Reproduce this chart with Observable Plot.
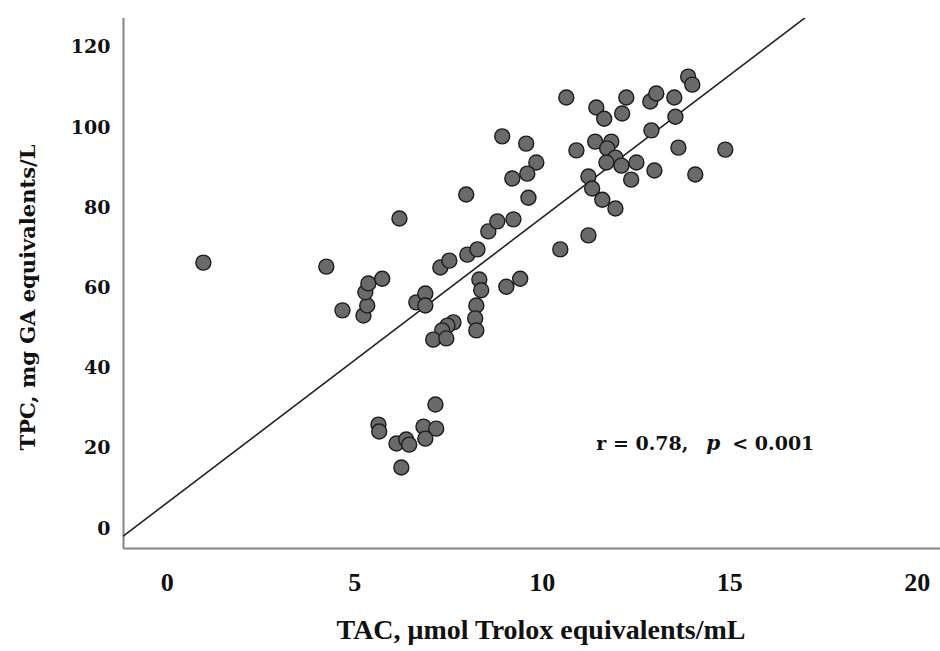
<!DOCTYPE html>
<html>
<head>
<meta charset="utf-8">
<script src="https://cdn.jsdelivr.net/npm/d3@7"></script>
<script src="https://cdn.jsdelivr.net/npm/@observablehq/plot@0.6"></script>
<style>
  html, body { margin: 0; padding: 0; background: #fff; }
  #chart svg { display: block; }
</style>
</head>
<body>
<div id="chart"></div>
<script>
// TAC (µmol Trolox equivalents/mL) values
const tac = [
  0.96, 4.24, 4.67, 5.23, 5.33, 5.28, 5.36, 5.73, 6.19, 6.64,
  6.88, 6.88, 7.28, 7.52, 8.00, 8.27, 8.56, 8.80, 9.23, 7.97,
  8.32, 8.37, 8.24, 8.21, 8.24, 9.04, 9.41, 7.63, 7.47, 7.33,
  7.09, 7.44, 7.15, 5.63, 5.65, 6.11, 6.37, 6.45, 6.83, 7.17,
  6.88, 6.24, 8.93, 9.57, 9.84, 9.60, 9.20, 9.63, 10.64, 11.44,
  11.65, 12.24, 12.13, 12.88, 13.04, 13.52, 13.89, 14.00, 13.55, 12.91,
  10.91, 11.41, 11.84, 11.73, 11.95, 11.71, 12.11, 12.51, 13.63, 14.88,
  12.99, 12.37, 14.08, 11.23, 11.33, 11.60, 11.95, 11.23, 10.48
];
// TPC (mg GA equivalents/L) values
const tpc = [
  66.3, 65.3, 54.4, 53.1, 55.6, 58.9, 61.1, 62.3, 77.3, 56.4,
  58.6, 55.6, 65.1, 66.8, 68.3, 69.6, 74.1, 76.6, 77.1, 83.3,
  62.1, 59.4, 55.6, 52.4, 49.4, 60.3, 62.3, 51.4, 50.6, 49.4,
  47.1, 47.4, 30.9, 25.9, 24.2, 21.2, 22.2, 20.9, 25.4, 24.9,
  22.4, 15.2, 97.8, 96.0, 91.3, 88.5, 87.3, 82.5, 107.5, 105.0,
  102.2, 107.5, 103.5, 106.5, 108.5, 107.5, 112.7, 110.7, 102.7, 99.3,
  94.3, 96.5, 96.5, 94.8, 92.5, 91.3, 90.5, 91.3, 95.0, 94.5,
  89.3, 87.0, 88.3, 87.8, 84.8, 82.0, 79.8, 73.1, 69.6
];
// fit line coefficients (intercept, slope)
const fitIntercept = 6.46;
const fitSlope = 7.11;
// tick labels
const xTicks = [0, 5, 10, 15, 20];
const yTicks = [0, 20, 40, 60, 80, 100, 120];
const xDomain = [-1.17, 20.62];
const yDomain = [-5, 127.2];
const xTitle = "TAC, \u03bcmol Trolox equivalents/mL";
const yTitle = "TPC, mg GA equivalents/L";
const annR = "r = 0.78,";
const annP = "p";
const annLt = "< 0.001";
const annPos = {x: 11.44, y: 21.2};

const points = tac.map((x, i) => ({x, y: tpc[i]}));
const fitLine = xDomain.map(x => ({x, y: fitIntercept + fitSlope * x}));

const serif = "'DejaVu Serif', serif";
const lib = "'Liberation Serif', serif";

const chart = Plot.plot({
  width: 940,
  height: 651,
  marginLeft: 123,
  marginRight: 0,
  marginTop: 18,
  marginBottom: 103,
  style: {background: "#fff"},
  x: {domain: xDomain},
  y: {domain: yDomain},
  marks: [
    Plot.axisX({ticks: xTicks, tickSize: 0, tickPadding: 24, label: null,
      fontFamily: lib, fontWeight: "bold", fontSize: 26, fill: "#111"}),
    Plot.axisY({ticks: yTicks, tickSize: 0, tickPadding: 13, label: null,
      fontFamily: serif, fontWeight: "bold", fontSize: 19, fill: "#111"}),
    Plot.ruleX([xDomain[0]], {y1: yDomain[0], y2: yDomain[1], stroke: "#858585", strokeWidth: 2}),
    Plot.ruleY([yDomain[0]], {stroke: "#858585", strokeWidth: 2}),
    Plot.line(fitLine, {x: "x", y: "y", stroke: "#222", strokeWidth: 1.6, clip: true}),
    Plot.dot(points, {x: "x", y: "y", r: 7.5, fill: "#6a6a6a", fillOpacity: 1,
      stroke: "#1c1c1c", strokeWidth: 1.4}),
    Plot.text([xTitle], {frameAnchor: "bottom", dy: 90, dx: 9, fontFamily: lib,
      fontWeight: "bold", fontSize: 28, fill: "#111"}),
    Plot.text([yTitle], {frameAnchor: "left", textAnchor: "middle", dx: -95, dy: 14, rotate: -90,
      fontFamily: serif, fontWeight: "bold", fontSize: 21, fill: "#111"}),
    Plot.text([annPos], {x: "x", y: "y", text: () => annR, textAnchor: "start",
      fontFamily: serif, fontWeight: "bold", fontSize: 19, fill: "#111"}),
    Plot.text([annPos], {x: "x", y: "y", text: () => annP, textAnchor: "start", dx: 110,
      fontFamily: serif, fontWeight: "bold", fontStyle: "italic", fontSize: 20, fill: "#111"}),
    Plot.text([annPos], {x: "x", y: "y", text: () => annLt, textAnchor: "start", dx: 136,
      fontFamily: serif, fontWeight: "bold", fontSize: 19, fill: "#111"})
  ]
});
document.getElementById("chart").appendChild(chart);
</script>
</body>
</html>
